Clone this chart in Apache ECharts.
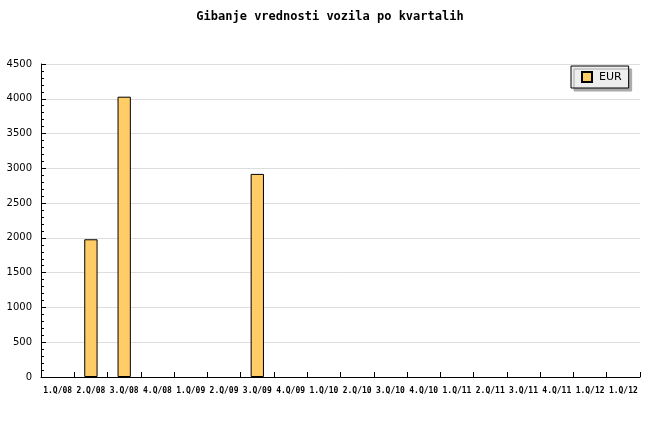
<!DOCTYPE html>
<html><head><meta charset="utf-8">
<script src="https://cdn.jsdelivr.net/npm/echarts@6/dist/echarts.min.js"></script>
<style>html,body{margin:0;padding:0;background:#fff}#c{width:660px;height:440px}</style>
</head><body><div id="c"></div>
<script>
var categories = ['1.Q/08','2.Q/08','3.Q/08','4.Q/08','1.Q/09','2.Q/09','3.Q/09','4.Q/09','1.Q/10','2.Q/10','3.Q/10','4.Q/10','1.Q/11','2.Q/11','3.Q/11','4.Q/11','1.Q/12','1.Q/12'];
var eurValues = [null,1980,4030,null,null,null,2920,null,null,null,null,null,null,null,null,null,null,null];
var seriesName = 'EUR';
var titleText = 'Gibanje vrednosti vozila po kvartalih';

var chart = echarts.init(document.getElementById('c'), null, {renderer:'canvas'});
chart.setOption({
  animation:false,
  backgroundColor:'#fff',
  title:{text:titleText,left:'center',top:6,textStyle:{fontFamily:'DejaVu Sans Mono',fontWeight:'bold',fontSize:12,color:'#000'}},
  legend:{
    data:[seriesName],left:571,top:66,orient:'vertical',
    backgroundColor:'#eeeeee',borderColor:'#000',borderWidth:1,
    shadowColor:'#aaaaaa',shadowOffsetX:3,shadowOffsetY:3,shadowBlur:0,
    padding:[5,7,5,10],itemWidth:10,itemHeight:10,
    icon:'rect',
    textStyle:{fontFamily:'DejaVu Sans',fontSize:11,color:'#000',padding:[0,0,0,2]}
  },
  grid:{left:41,right:20,top:64,bottom:63,containLabel:false},
  xAxis:{
    type:'category',data:categories,boundaryGap:true,
    axisLine:{lineStyle:{color:'#000',width:1}},
    axisTick:{show:true,inside:true,length:5,alignWithLabel:false,lineStyle:{color:'#000'}},
    axisLabel:{interval:0,margin:10,fontFamily:'DejaVu Sans Mono',fontWeight:'bold',fontSize:8,color:'#000'},
    splitLine:{show:false}
  },
  yAxis:{
    type:'value',min:0,max:4500,interval:500,
    axisLine:{show:true,lineStyle:{color:'#000',width:1}},
    axisTick:{show:true,inside:true,length:5,lineStyle:{color:'#000'}},
    minorTick:{show:true,splitNumber:5,length:3,lineStyle:{color:'#000'}},
    axisLabel:{margin:9,fontFamily:'DejaVu Sans',fontSize:10,color:'#000',formatter:function(v){return String(v);}},
    splitLine:{show:true,lineStyle:{color:'#dddddd',width:1}}
  },
  series:[{
    name:seriesName,type:'bar',data:eurValues,barWidth:'40%',
    itemStyle:{color:'#ffcc66',borderColor:'#000',borderWidth:1}
  }]
});
</script></body></html>
